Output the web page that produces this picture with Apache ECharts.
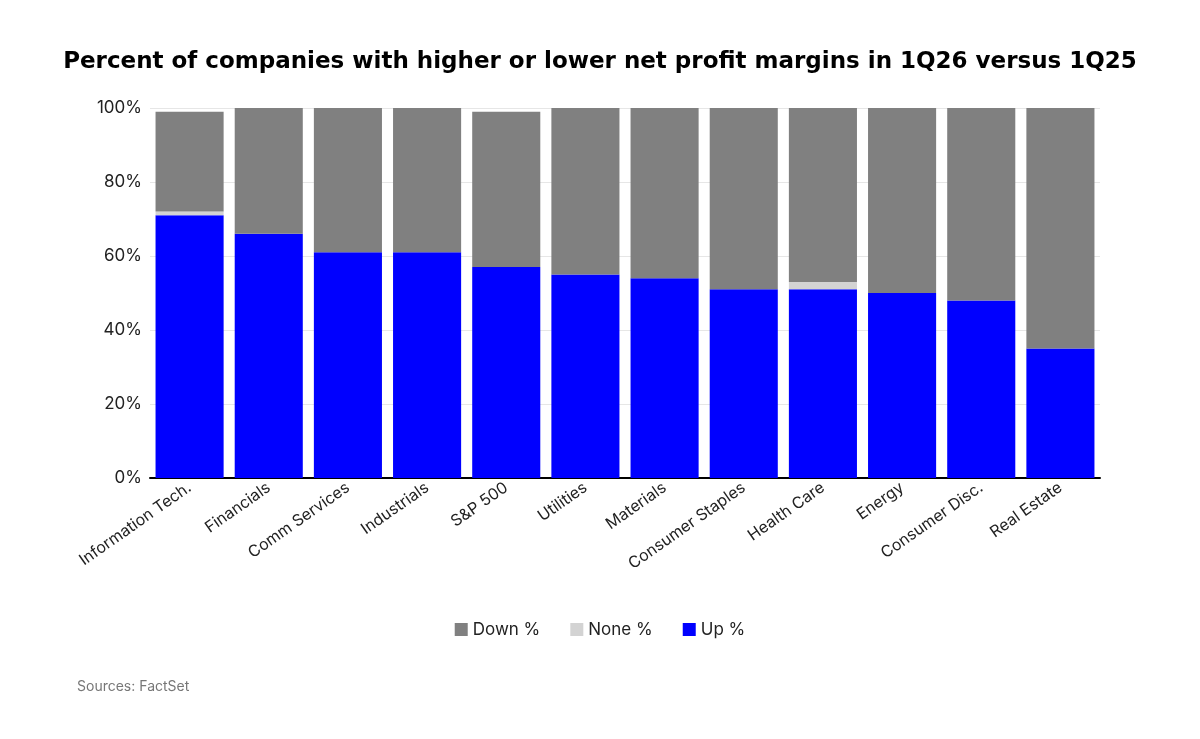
<!DOCTYPE html>
<html>
<head>
<meta charset="utf-8">
<script src="https://cdn.jsdelivr.net/npm/echarts@6/dist/echarts.min.js"></script>
<style>html,body{margin:0;padding:0;background:#fff}#main{width:1200px;height:739px}</style>
</head>
<body>
<div id="main"></div>
<script>
var categories = ['Information Tech.','Financials','Comm Services','Industrials','S&P 500','Utilities','Materials','Consumer Staples','Health Care','Energy','Consumer Disc.','Real Estate'];
var upPct   = [71, 66, 61, 61, 57, 55, 54, 51, 51, 50, 48, 35];
var nonePct = [1, 0, 0, 0, 0, 0, 0, 0, 2, 0, 0, 0];
var downPct = [27, 34, 39, 39, 42, 45, 46, 49, 47, 50, 52, 65];

var chart = echarts.init(document.getElementById('main'));
chart.setOption({
    animation: false,
    title: {
        text: 'Percent of companies with higher or lower net profit margins in 1Q26 versus 1Q25',
        left: 'center',
        top: 46,
        textStyle: {fontFamily: 'DejaVu Sans', fontSize: 23, fontWeight: 'bold', color: '#000'}
    },
    legend: {
        bottom: 96,
        left: 'center',
        itemWidth: 13,
        itemHeight: 13,
        itemGap: 30,
        icon: 'rect',
        data: ['Down %', 'None %', 'Up %'],
        textStyle: {fontFamily: 'Inter', fontSize: 17, color: '#222'}
    },
    graphic: [{
        type: 'text', left: 77, top: 680,
        style: {text: 'Sources: FactSet', fontFamily: 'Inter', fontSize: 14, fill: '#777'}
    }],
    grid: {left: 150, right: 100, top: 108, bottom: 261},
    xAxis: {
        type: 'category',
        data: categories,
        axisLine: {lineStyle: {color: '#000', width: 2}},
        axisTick: {show: false},
        axisLabel: {rotate: 35, fontFamily: 'Inter', fontSize: 16, color: '#222', interval: 0}
    },
    yAxis: {
        type: 'value',
        min: 0, max: 100, interval: 20,
        axisLabel: {formatter: '{value}%', fontFamily: 'Inter', fontSize: 17, color: '#222'},
        splitLine: {lineStyle: {color: '#e6e6e6'}}
    },
    series: [
        {name: 'Up %', type: 'bar', stack: 't', data: upPct, barCategoryGap: '14%', itemStyle: {color: '#0000ff'}},
        {name: 'None %', type: 'bar', stack: 't', data: nonePct, itemStyle: {color: '#d3d3d3'}},
        {name: 'Down %', type: 'bar', stack: 't', data: downPct, itemStyle: {color: '#808080'}}
    ]
});
</script>
</body>
</html>
